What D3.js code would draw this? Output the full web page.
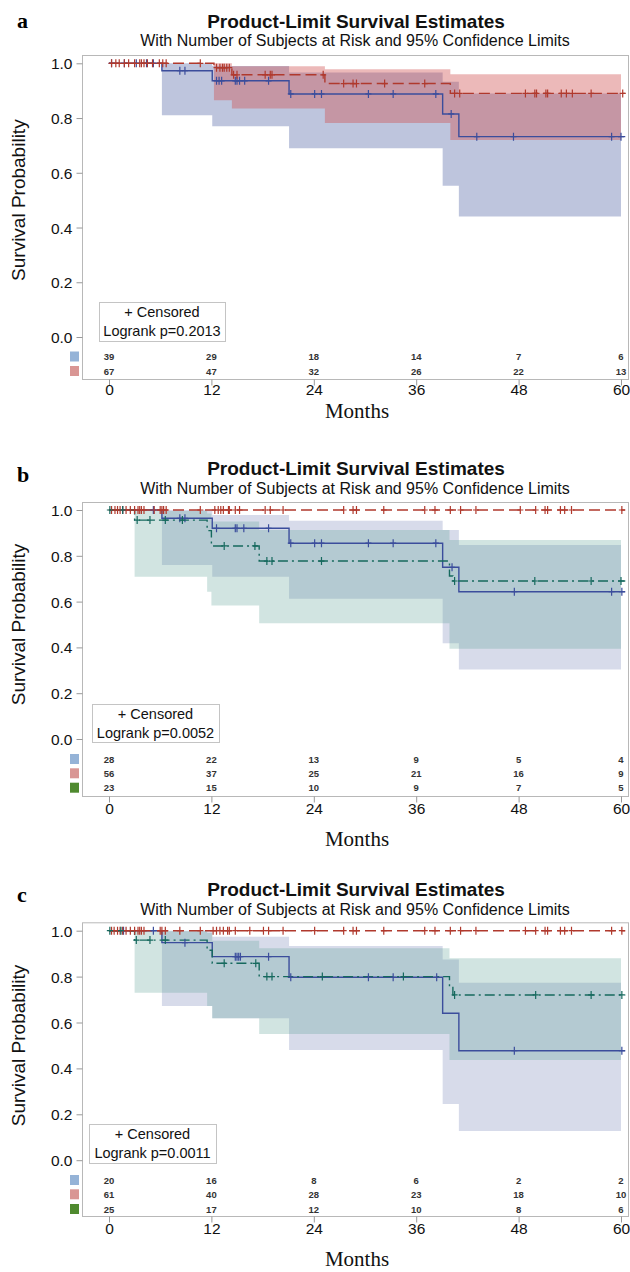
<!DOCTYPE html>
<html><head><meta charset="utf-8">
<script src="https://cdn.jsdelivr.net/npm/d3@7"></script>
<style>body{margin:0;background:#fff} svg{display:block}</style>
</head><body>
<svg id="chart" width="630" height="1272"></svg>
<script>
// ---------- shared ----------
const monthTicks = [0, 12, 24, 36, 48, 60];
const survTicks = [0, 0.2, 0.4, 0.6, 0.8, 1.0];
const titleText = "Product-Limit Survival Estimates";
const subtitleText = "With Number of Subjects at Risk and 95% Confidence Limits";
const panelLetters = ["a", "b", "c"];
const logrankP = ["0.2013", "0.0052", "0.0011"];
const lineEndMonth = 60.5;
const bandEndMonth = 60;

// ---------- panel a ----------
const aBlueTime  = [0, 6.2, 12.1, 21.1, 39.1, 41.0];
const aBlueSurv  = [1, 0.973, 0.936, 0.888, 0.815, 0.732];
const aBlueLower = [1, 0.81, 0.77, 0.69, 0.553, 0.44];
const aBlueUpper = [1, 1.0, 0.99, 0.966, 0.933, 0.89];
const aBlueCensor = [0.3, 1.8, 3.2, 4.4, 5.2, 8.3, 8.9, 12.6, 12.9, 13.2, 14.8, 15.0, 15.3, 15.9, 18.7,
  21.3, 24.1, 24.9, 30.4, 33.3, 38.3, 40.1, 43.1, 47.4, 58.9, 60.0];
const aRedTime  = [0, 12.3, 14.4, 25.3, 40.0];
const aRedSurv  = [1, 0.984, 0.958, 0.926, 0.89];
const aRedLower = [1, 0.865, 0.835, 0.782, 0.72];
const aRedUpper = [1, 1.0, 0.989, 0.978, 0.96];
const aRedCensor = [0.3, 0.8, 1.2, 1.8, 2.3, 3.0, 3.6, 3.8, 4.1, 4.5, 5.1, 5.9, 6.3, 6.7, 10.7,
  12.6, 13.0, 13.3, 13.5, 13.8, 14.1, 14.6, 15.0, 18.3, 18.9, 19.1, 25.1,
  27.5, 28.6, 29.0, 32.3, 37.0, 40.5, 41.1, 48.8, 49.9, 50.1, 51.2, 51.4, 53.0, 53.6, 54.3, 56.5, 60.2];
const aRiskBlue = [39, 29, 18, 14, 7, 6];
const aRiskRed  = [67, 47, 32, 26, 22, 13];

// ---------- panel b ----------
const bBlueTime  = [0, 6.2, 12.1, 21.1, 39.1, 41.0];
const bBlueSurv  = [1, 0.964, 0.92, 0.855, 0.75, 0.643];
const bBlueLower = [1, 0.76, 0.709, 0.612, 0.418, 0.304];
const bBlueUpper = [1, 1.0, 0.978, 0.953, 0.913, 0.847];
const bBlueCensor = [1.6, 5.2, 8.3, 8.9, 12.6, 14.8, 15.0, 15.8, 18.7, 21.3, 24.1, 24.9, 30.4, 33.3, 38.3,
  40.2, 47.5, 58.9, 60.1];
const bRedTime = [0];
const bRedSurv = [1];
const bRedCensor = [0.3, 0.7, 1.0, 1.3, 1.6, 2.0, 2.5, 3.0, 3.4, 3.6, 3.8, 4.1, 5.3, 6.0, 6.2, 6.4, 6.7, 10.7,
  12.4, 12.8, 13.1, 13.4, 14.0, 14.1, 14.8, 15.3, 18.3, 18.9, 20.4, 27.5, 28.6, 29.0, 32.2, 37.0, 38.2,
  40.0, 41.2, 43.0, 48.2, 50.0, 51.1, 51.4, 52.9, 53.4, 54.2, 60.1];
const bGreenTime  = [0, 3.0, 11.5, 12.0, 17.6, 39.9, 40.3];
const bGreenSurv  = [1, 0.956, 0.91, 0.843, 0.777, 0.712, 0.69];
const bGreenLower = [1, 0.709, 0.643, 0.583, 0.505, 0.394, 0.394];
const bGreenUpper = [1, 0.996, 0.985, 0.95, 0.913, 0.869, 0.869];
const bGreenCensor = [0.1, 1.6, 3.3, 4.8, 6.6, 8.6, 13.5, 17.1, 18.5, 19.1, 24.9, 40.5, 49.9, 56.5, 60.0];
const bRiskBlue  = [28, 22, 13, 9, 5, 4];
const bRiskRed   = [56, 37, 25, 21, 16, 9];
const bRiskGreen = [23, 15, 10, 9, 7, 5];

// ---------- panel c ----------
const cBlueTime  = [0, 6.2, 12.1, 21.1, 39.1, 41.0];
const cBlueSurv  = [1, 0.948, 0.887, 0.797, 0.64, 0.477];
const cBlueLower = [1, 0.672, 0.618, 0.48, 0.245, 0.127];
const cBlueUpper = [1, 1.0, 0.974, 0.933, 0.875, 0.773];
const cBlueCensor = [1.7, 5.2, 8.9, 14.8, 15.0, 15.2, 15.4, 18.7, 21.3, 30.4, 33.3, 38.4, 47.5, 60.1];
const cRedTime = [0];
const cRedSurv = [1];
const cRedCensor = [0.3, 0.6, 1.0, 1.3, 1.6, 2.0, 2.5, 3.0, 3.4, 3.6, 3.8, 4.1, 6.0, 6.2, 6.6, 8.3, 10.7,
  12.2, 12.6, 13.0, 13.4, 13.9, 14.1, 14.8, 16.5, 18.1, 18.7, 20.4, 24.1, 27.5, 28.6, 29.0, 32.2, 37.0, 38.2,
  40.0, 41.2, 43.0, 48.8, 50.0, 51.1, 51.4, 52.9, 53.4, 54.2, 58.9, 60.1];
const cGreenTime  = [0, 3.0, 11.5, 12.1, 17.6, 39.9, 40.3];
const cGreenSurv  = [1, 0.959, 0.915, 0.858, 0.80, 0.756, 0.72];
const cGreenLower = [1, 0.73, 0.672, 0.618, 0.55, 0.437, 0.437];
const cGreenUpper = [1, 0.998, 0.99, 0.956, 0.923, 0.88, 0.88];
const cGreenCensor = [0.1, 1.4, 3.2, 4.8, 6.6, 13.5, 17.2, 18.5, 19.1, 25.0, 34.5, 40.5, 50.0, 56.5, 60.1];
const cRiskBlue  = [20, 16, 8, 6, 2, 2];
const cRiskRed   = [61, 40, 28, 23, 18, 10];
const cRiskGreen = [25, 17, 12, 10, 8, 6];

// ---------- styling ----------
const SANS = "'Liberation Sans', Arial, Helvetica, sans-serif";
const SERIF = "'Liberation Serif', 'Times New Roman', serif";
const style = {
  blue:  {line: "#3b4d9c", fill: "#6f7eb3", box: "#95b3d7", dash: null},
  red:   {line: "#b0392d", fill: "#d05050", box: "#d99694", dash: "11,5"},
  green: {line: "#16695e", fill: "#5a9e95", box: "#4f8a2f", dash: "10,4,2,4"}
};

const panels = [
  {
    letter: panelLetters[0], p: logrankP[0],
    layout: {titleY: 28, subY: 46, letterY: 28, frameTop: 55, y1: 63.3, y0: 337,
      rows: [356.5, 371], frameBottom: 379, tickY: 394, monthsY: 418,
      legend: {x: 99, y: 302, w: 126, h: 39}},
    series: [
      {key: "blue", time: aBlueTime, surv: aBlueSurv, lower: aBlueLower, upper: aBlueUpper, censor: aBlueCensor, risk: aRiskBlue, op: 0.45},
      {key: "red", time: aRedTime, surv: aRedSurv, lower: aRedLower, upper: aRedUpper, censor: aRedCensor, risk: aRiskRed, op: 0.4}
    ]
  },
  {
    letter: panelLetters[1], p: logrankP[1],
    layout: {titleY: 475, subY: 494, letterY: 482, frameTop: 502, y1: 510, y0: 739,
      rows: [759, 773.3, 787.7], frameBottom: 796, tickY: 813.5, monthsY: 846,
      legend: {x: 92, y: 704, w: 127, h: 38}},
    series: [
      {key: "blue", time: bBlueTime, surv: bBlueSurv, lower: bBlueLower, upper: bBlueUpper, censor: bBlueCensor, risk: bRiskBlue, op: 0.28},
      {key: "red", time: bRedTime, surv: bRedSurv, censor: bRedCensor, risk: bRiskRed},
      {key: "green", time: bGreenTime, surv: bGreenSurv, lower: bGreenLower, upper: bGreenUpper, censor: bGreenCensor, risk: bRiskGreen, op: 0.28}
    ]
  },
  {
    letter: panelLetters[2], p: logrankP[2],
    layout: {titleY: 896, subY: 915, letterY: 902, frameTop: 922.3, y1: 930.7, y0: 1160.2,
      rows: [1180, 1194.3, 1209], frameBottom: 1216, tickY: 1233.5, monthsY: 1266,
      legend: {x: 89, y: 1124, w: 127, h: 39}},
    series: [
      {key: "blue", time: cBlueTime, surv: cBlueSurv, lower: cBlueLower, upper: cBlueUpper, censor: cBlueCensor, risk: cRiskBlue, op: 0.28},
      {key: "red", time: cRedTime, surv: cRedSurv, censor: cRedCensor, risk: cRiskRed},
      {key: "green", time: cGreenTime, surv: cGreenSurv, lower: cGreenLower, upper: cGreenUpper, censor: cGreenCensor, risk: cRiskGreen, op: 0.28}
    ]
  }
];

const svg = d3.select("#chart");
const frameLeft = 82, frameRight = 628;
const x = d3.scaleLinear().domain([0, 60]).range([109, 621]);

function stepAt(times, vals, t) {
  let i = d3.bisectRight(times, t) - 1;
  if (i < 0) i = 0;
  return vals[i];
}

function drawPanel(P) {
  const L = P.layout;
  const g = svg.append("g");
  const y = d3.scaleLinear().domain([0, 1]).range([L.y0, L.y1]);

  // titles
  g.append("text").attr("x", 17).attr("y", L.letterY)
    .attr("font-family", SERIF).attr("font-weight", "bold").attr("font-size", 22).text(P.letter);
  g.append("text").attr("x", 356).attr("y", L.titleY).attr("text-anchor", "middle")
    .attr("font-family", SANS).attr("font-weight", "bold").attr("font-size", 19).attr("fill", "#111").text(titleText);
  g.append("text").attr("x", 355).attr("y", L.subY).attr("text-anchor", "middle")
    .attr("font-family", SANS).attr("font-size", 16).attr("fill", "#111").text(subtitleText);

  // bands
  P.series.forEach(s => {
    if (!s.lower) return;
    const data = s.time.map((t, i) => ({t, lo: s.lower[i], hi: s.upper[i]}));
    data.push({t: bandEndMonth, lo: s.lower[s.lower.length - 1], hi: s.upper[s.upper.length - 1]});
    const area = d3.area().curve(d3.curveStepAfter)
      .x(d => x(d.t)).y0(d => y(d.lo)).y1(d => y(d.hi));
    g.append("path").attr("d", area(data)).attr("fill", style[s.key].fill).attr("fill-opacity", s.op);
  });

  // survival lines
  P.series.forEach(s => {
    const data = s.time.map((t, i) => ({t, v: s.surv[i]}));
    data.push({t: lineEndMonth, v: s.surv[s.surv.length - 1]});
    const line = d3.line().curve(d3.curveStepAfter).x(d => x(d.t)).y(d => y(d.v));
    g.append("path").attr("d", line(data)).attr("fill", "none")
      .attr("stroke", style[s.key].line).attr("stroke-width", 1.4)
      .attr("stroke-dasharray", style[s.key].dash);
  });

  // censor marks
  P.series.forEach(s => {
    g.append("g").selectAll("path").data(s.censor).join("path")
      .attr("d", t => {
        const cx = x(t), cy = y(stepAt(s.time, s.surv, t));
        return `M${cx - 3},${cy}H${cx + 3}M${cx},${cy - 4}V${cy + 4}`;
      })
      .attr("stroke", style[s.key].line).attr("stroke-width", 1.2).attr("fill", "none");
  });

  // frame
  g.append("rect").attr("x", frameLeft + 0.5).attr("y", L.frameTop + 0.5)
    .attr("width", frameRight - frameLeft).attr("height", L.frameBottom - L.frameTop)
    .attr("fill", "none").attr("stroke", "#b8b8b8");

  // y axis
  const ya = g.append("g").attr("transform", `translate(${frameLeft + 0.5},0)`)
    .call(d3.axisLeft(y).tickValues(survTicks).tickFormat(d3.format(".1f")).tickSize(6).tickPadding(4));
  ya.select(".domain").remove();
  ya.selectAll("line").attr("stroke", "#999");
  ya.selectAll("text").attr("font-family", SANS).attr("font-size", 15.5).attr("fill", "#111")
    .attr("dy", "0.36em");

  // x axis
  const xa = g.append("g").attr("transform", `translate(0,${L.frameBottom + 0.5})`)
    .call(d3.axisBottom(x).tickValues(monthTicks).tickSize(6));
  xa.select(".domain").remove();
  xa.selectAll("line").attr("stroke", "#999");
  xa.selectAll("text").attr("font-family", SANS).attr("font-size", 15.5).attr("fill", "#111")
    .attr("y", L.tickY - L.frameBottom).attr("dy", 0);

  // axis titles
  g.append("text").attr("transform", `translate(25,${(L.y0 + L.y1) / 2}) rotate(-90)`)
    .attr("text-anchor", "middle").attr("font-family", SANS).attr("font-size", 19).attr("fill", "#111")
    .text("Survival Probability");
  g.append("text").attr("x", 357).attr("y", L.monthsY).attr("text-anchor", "middle")
    .attr("font-family", SERIF).attr("font-size", 21).attr("fill", "#111").text("Months");

  // risk table
  P.series.forEach((s, i) => {
    const ry = L.rows[i];
    g.append("rect").attr("x", 70).attr("y", ry - 5).attr("width", 9).attr("height", 10)
      .attr("fill", style[s.key].box);
    g.append("g").selectAll("text").data(monthTicks).join("text")
      .attr("x", d => x(d)).attr("y", ry + 3.5).attr("text-anchor", "middle")
      .attr("font-family", SANS).attr("font-size", 9.5).attr("font-weight", "bold").attr("fill", "#333")
      .text((d, j) => s.risk[j]);
  });

  // legend box
  const lg = L.legend;
  g.append("rect").attr("x", lg.x + 0.5).attr("y", lg.y + 0.5).attr("width", lg.w).attr("height", lg.h)
    .attr("fill", "#fff").attr("stroke", "#c4c4c4");
  g.append("text").attr("x", lg.x + lg.w / 2).attr("y", lg.y + 15).attr("text-anchor", "middle")
    .attr("font-family", SANS).attr("font-size", 14.5).attr("fill", "#111").text("+ Censored");
  g.append("text").attr("x", lg.x + lg.w / 2).attr("y", lg.y + 34).attr("text-anchor", "middle")
    .attr("font-family", SANS).attr("font-size", 14.5).attr("fill", "#111").text("Logrank p=" + P.p);
}

panels.forEach(drawPanel);
</script>
</body></html>
